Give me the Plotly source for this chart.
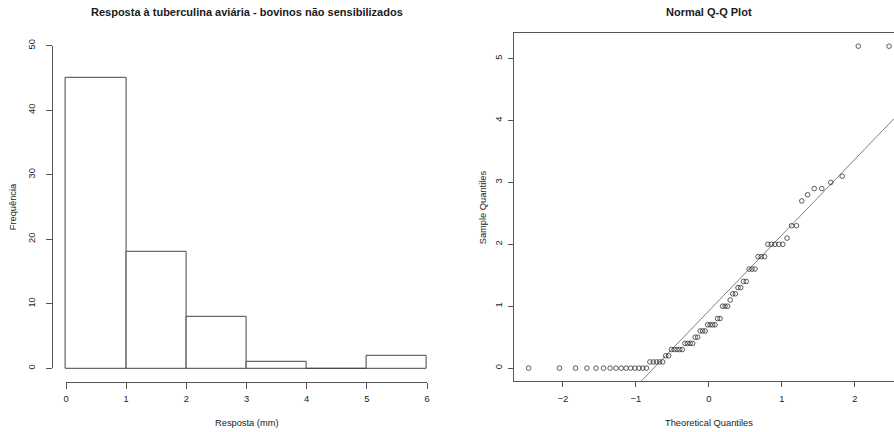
import plotly.graph_objects as go
from statistics import NormalDist
import numpy as np

# ---------------- data ----------------
# Histogram (R hist, right-closed bins)
bin_edges = [0, 1, 2, 3, 4, 5, 6]
bin_counts = [45, 18, 8, 1, 0, 2]
hist_xticks = [0, 1, 2, 3, 4, 5, 6]
hist_yticks = [0, 10, 20, 30, 40, 50]

# Sorted sample values (response, mm)
sample_values = (
    [0.0] * 15 + [0.1] * 5 + [0.2] * 2 + [0.3] * 5 + [0.4] * 4 + [0.5] * 2 +
    [0.6] * 3 + [0.7] * 4 + [0.8] * 2 + [1.0] * 3 + [1.1] + [1.2] * 2 +
    [1.3] * 2 + [1.4] * 2 + [1.6] * 3 + [1.8] * 3 + [2.0] * 5 + [2.1] +
    [2.3] * 2 + [2.7] + [2.8] + [2.9] * 2 + [3.0] + [3.1] + [5.2] * 2
)
qq_xticks = [-2, -1, 0, 1, 2]
qq_yticks = [0, 1, 2, 3, 4, 5]

# Q-Q transform (as R qqnorm / qqline do)
n = len(sample_values)
a = 0.5 if n > 10 else 3 / 8
theoretical = [NormalDist().inv_cdf((i + 1 - a) / (n + 1 - 2 * a)) for i in range(n)]
q1, q3 = np.percentile(sample_values, [25, 75])
t1, t3 = NormalDist().inv_cdf(0.25), NormalDist().inv_cdf(0.75)
slope = (q3 - q1) / (t3 - t1)
intercept = q1 - slope * t1

# ---------------- layout helpers ----------------
W, H = 894, 432
def fx(p):
    return p / W
def fy(p):
    return 1 - p / H

FONT = "Liberation Sans, Arial, sans-serif"
AX = "#555555"
TXT = "#1a1a1a"
tickfont = dict(family=FONT, size=9.3, color=TXT)

fig = go.Figure()

centers = [(bin_edges[i] + bin_edges[i + 1]) / 2 for i in range(len(bin_counts))]
widths = [bin_edges[i + 1] - bin_edges[i] for i in range(len(bin_counts))]
fig.add_trace(go.Bar(
    x=centers, y=bin_counts, width=widths,
    marker=dict(color="white", line=dict(color="#444444", width=1)),
    xaxis="x", yaxis="y", showlegend=False, hoverinfo="x+y",
))
# dummy trace to create the free-standing histogram axes
fig.add_trace(go.Scatter(x=[None], y=[None], xaxis="x3", yaxis="y3",
                         showlegend=False, hoverinfo="skip"))

qx0, qx1 = -2.667, 2.538
fig.add_trace(go.Scatter(
    x=[qx0, qx1], y=[intercept + slope * qx0, intercept + slope * qx1],
    mode="lines", line=dict(color="#707070", width=0.9),
    xaxis="x2", yaxis="y2", showlegend=False, hoverinfo="skip",
))
fig.add_trace(go.Scatter(
    x=theoretical, y=sample_values, mode="markers",
    marker=dict(symbol="circle-open", size=4.6, color="#333333",
                line=dict(width=0.8, color="#333333")),
    xaxis="x2", yaxis="y2", showlegend=False,
))

hidden = dict(visible=False, showgrid=False, zeroline=False, fixedrange=True,
              automargin=False)
common = dict(showgrid=False, zeroline=False, automargin=False,
              showline=True, linecolor=AX, linewidth=1,
              ticks="outside", tickcolor=AX, tickwidth=1, tickfont=tickfont)
fig.update_layout(
    template="none",
    width=W, height=H,
    margin=dict(l=0, r=0, t=0, b=0, pad=0, autoexpand=False),
    paper_bgcolor="white", plot_bgcolor="rgba(0,0,0,0)",
    font=dict(family=FONT, color=TXT),
    bargap=0,
    # histogram bars
    xaxis=dict(hidden, domain=[fx(51.6), fx(441.4)], range=[-0.24, 6.24], anchor="y"),
    yaxis=dict(hidden, domain=[fy(381.2), fy(32.8)], range=[-2, 52], anchor="x"),
    # histogram axes (R style, spanning only the tick range)
    xaxis3=dict(common, domain=[fx(66), fx(427)], range=[0, 6], anchor="free",
                position=fy(382.3), ticklen=6, tickvals=hist_xticks,
                ticklabelstandoff=2),
    yaxis3=dict(common, domain=[fy(368.3), fy(45.7)], range=[0, 50], anchor="free",
                position=fx(52.3), ticklen=6, tickvals=hist_yticks,
                tickangle=-90, ticklabelstandoff=8),
    # Q-Q plot
    xaxis2=dict(common, domain=[fx(514.3), 1], range=[qx0, qx1], anchor="y2",
                mirror=True, ticklen=5, tickvals=qq_xticks,
                ticklabelstandoff=4),
    yaxis2=dict(common, domain=[fy(381), fy(33.3)], range=[-0.208, 5.408], anchor="x2",
                ticklen=5, tickvals=qq_yticks, tickangle=-90,
                ticklabelstandoff=3),
)

def ann(text, x, y, size=9.3, bold=False, angle=0):
    fig.add_annotation(
        text=f"<b>{text}</b>" if bold else text,
        x=fx(x), y=fy(y), xref="paper", yref="paper",
        xanchor="center", yanchor="middle", showarrow=False,
        textangle=angle, font=dict(family=FONT, size=size, color=TXT),
    )

ann("Resposta à tuberculina aviária - bovinos não sensibilizados", 246.5, 11.7, size=11, bold=True)
ann("Normal Q-Q Plot", 708.7, 11.7, size=11, bold=True)
ann("Resposta (mm)", 246.7, 422.7)
ann("Theoretical Quantiles", 708.7, 422.7)
ann("Frequência", 13.3, 207, angle=-90)
ann("Sample Quantiles", 483.3, 207, angle=-90)

fig.write_html("out.html", config={"displayModeBar": False},
               post_script="document.body.style.margin='0';")
